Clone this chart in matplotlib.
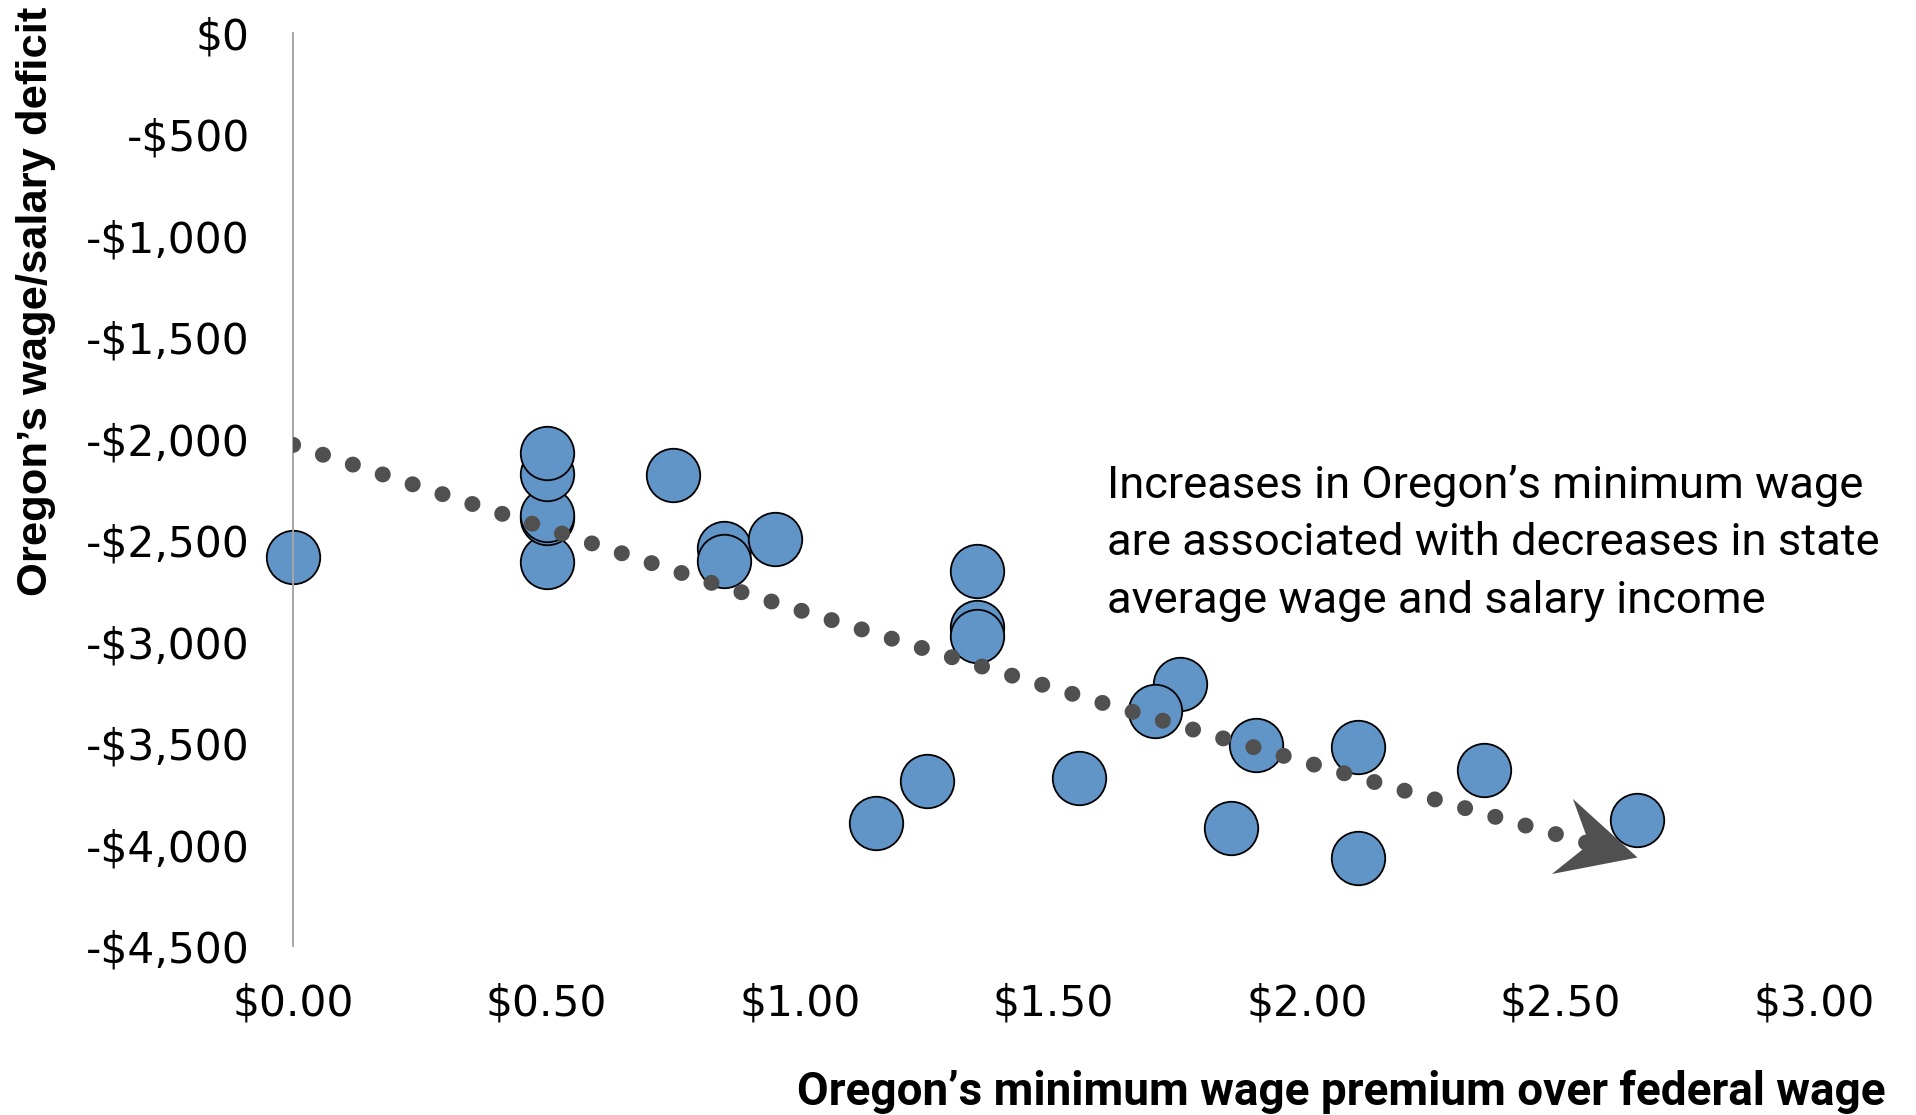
import numpy as np
import matplotlib
matplotlib.use("Agg")
import matplotlib.pyplot as plt
from matplotlib.markers import MarkerStyle
from matplotlib.path import Path
from matplotlib.transforms import Affine2D
from matplotlib.ticker import FuncFormatter

# ---------------- data ----------------
premium = [0.00, 0.50, 0.50, 0.50, 0.50, 0.50, 0.75, 0.85, 0.85, 0.95,
           1.15, 1.25, 1.35, 1.35, 1.35, 1.55, 1.75, 1.70, 1.85, 1.90,
           2.10, 2.10, 2.35, 2.65]
deficit = [-2584, -2606, -2391, -2375, -2174, -2072, -2178, -2540, -2601, -2495,
           -3895, -3687, -2650, -2926, -2972, -3673, -3209, -3340, -3920, -3509,
           -3517, -4068, -3633, -3879]

# hand-drawn trend arrow
trend_x = [0.00, 0.42, 0.83, 1.13, 1.37, 1.61, 1.85, 2.45, 2.65]
trend_y = [-2030, -2376, -2714, -2946, -3131, -3312, -3488, -3920, -4060]

x_ticks = [0.0, 0.5, 1.0, 1.5, 2.0, 2.5, 3.0]
y_ticks = [0, -500, -1000, -1500, -2000, -2500, -3000, -3500, -4000, -4500]

x_label = "Oregon\u2019s minimum wage premium over federal wage"
y_label = "Oregon\u2019s wage/salary deficit"
note = ("Increases in Oregon\u2019s minimum wage\n"
        "are associated with decreases in state\n"
        "average wage and salary income")

# ---------------- figure ----------------
W, H = 1916, 1115
fig = plt.figure(figsize=(W / 100, H / 100), dpi=100)
ax = fig.add_axes([293 / W, 1 - 946 / H, (1814 - 293) / W, (946 - 33) / H])
ax.set_xlim(0, 3)
ax.set_ylim(-4500, 0)

for s in ["top", "right", "bottom"]:
    ax.spines[s].set_visible(False)
ax.spines["left"].set_color("#A6A6A6")
ax.spines["left"].set_linewidth(1.4)

ax.set_xticks(x_ticks)
ax.set_yticks(y_ticks)
ax.xaxis.set_major_formatter(FuncFormatter(lambda v, p: f"${v:.2f}"))
ax.yaxis.set_major_formatter(
    FuncFormatter(lambda v, p: (f"-${abs(v):,.0f}" if v < 0 else f"${v:,.0f}")))
ax.tick_params(axis="both", length=0, labelsize=30.5, labelcolor="black")
ax.tick_params(axis="y", pad=31)
ax.tick_params(axis="x", pad=26)
for lab in ax.get_xticklabels() + ax.get_yticklabels():
    lab.set_family("DejaVu Sans")

# scatter
ax.plot(premium, deficit, linestyle="none", marker="o", markersize=38.5,
        markerfacecolor="#6195C8", markeredgecolor="black",
        markeredgewidth=1.3, zorder=2, clip_on=False)

# dotted trend line
ax.plot(trend_x, trend_y, color="#505050", linewidth=11.5,
        linestyle=(0, (0.01, 1.96)), dash_capstyle="round", zorder=3)

# stealth arrowhead at the end of the trend line
p1 = ax.transData.transform((trend_x[-2], trend_y[-2]))
p2 = ax.transData.transform((trend_x[-1], trend_y[-1]))
angle = np.degrees(np.arctan2(p2[1] - p1[1], p2[0] - p1[0]))
head = Path([(0, 0), (-78, 39), (-50, 0), (-78, -39), (0, 0)],
            [Path.MOVETO, Path.LINETO, Path.LINETO, Path.LINETO, Path.CLOSEPOLY])
head_marker = MarkerStyle(head, transform=Affine2D().rotate_deg(angle))
ax.plot([trend_x[-1]], [trend_y[-1]], linestyle="none", marker=head_marker,
        markersize=2 * 78 * 0.72, markerfacecolor="#505050",
        markeredgewidth=0, zorder=4, clip_on=False)

# annotation (baseline of last line placed)
fig.text(1107 / W, 1 - 613 / H, note, family=["Roboto", "DejaVu Sans"],
         fontsize=32.7, ha="left", va="baseline", linespacing=1.47,
         color="black")

# axis titles
fig.text(1886 / W, 1 - 1105 / H, x_label, family=["Roboto", "DejaVu Sans"],
         fontweight="bold", fontsize=33, ha="right", va="baseline",
         color="black")
fig.text(36 / W, 1 - 301 / H, y_label, family=["Liberation Sans", "DejaVu Sans"],
         fontweight="bold", fontsize=31.3, rotation=90, ha="center",
         va="center", color="black")

fig.savefig("out.png", dpi=100)
